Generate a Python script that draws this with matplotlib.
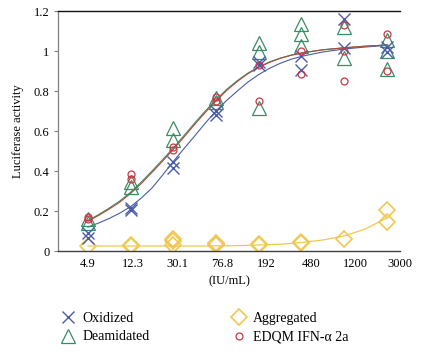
import numpy as np
import matplotlib.pyplot as plt

# ==========================================
# DATA
# ==========================================
conc_labels = ["4.9", "12.3", "30.1", "76.8", "192", "480", "1200", "3000"]

# replicate points per concentration index
oxidized = [
    [0.09, 0.065], [0.215, 0.205], [0.445, 0.415], [0.70, 0.68],
    [0.945, 0.93], [0.975, 0.905], [1.16, 1.015], [1.02, 0.995],
]
deamidated = [
    [0.16, 0.14], [0.345, 0.32], [0.615, 0.555], [0.765, 0.745],
    [1.04, 0.995, 0.715], [1.135, 1.085, 1.025], [1.12, 0.965], [1.055, 1.0, 0.91],
]
aggregated = [
    [0.025], [0.025, 0.03], [0.03, 0.05, 0.06], [0.03, 0.035, 0.04],
    [0.03, 0.035], [0.04, 0.045], [0.06], [0.205, 0.145],
]
edqm = [
    [0.16, 0.17], [0.385, 0.36], [0.52, 0.505], [0.77, 0.75],
    [0.93, 0.75], [1.0, 0.885], [1.13, 1.0, 0.85], [1.085, 0.90],
]

curve_x = [0, 0.25, 0.5, 0.75, 1, 1.25, 1.5, 1.75, 2, 2.25, 2.5, 2.75, 3, 3.25,
           3.5, 3.75, 4, 4.25, 4.5, 4.75, 5, 5.5, 6, 6.5, 7]
curve_ox = [0.12, 0.14, 0.163, 0.19, 0.222, 0.265, 0.315, 0.38, 0.448, 0.512, 0.575, 0.64, 0.70,
            0.753, 0.80, 0.845, 0.882, 0.913, 0.938, 0.958, 0.973, 0.995, 1.01, 1.02, 1.028]
curve_edqm = [0.15, 0.178, 0.21, 0.245, 0.288, 0.338, 0.393, 0.45, 0.508, 0.57, 0.633, 0.693, 0.75,
              0.803, 0.848, 0.887, 0.918, 0.943, 0.963, 0.978, 0.99, 1.006, 1.016, 1.024, 1.03]
curve_deam = [0.153, 0.182, 0.215, 0.251, 0.294, 0.345, 0.40, 0.457, 0.515, 0.577, 0.64, 0.70, 0.756,
              0.808, 0.852, 0.89, 0.92, 0.945, 0.964, 0.979, 0.99, 1.006, 1.016, 1.024, 1.03]
curve_agg = [0.025, 0.025, 0.025, 0.025, 0.025, 0.025, 0.025, 0.025, 0.025, 0.025, 0.025, 0.025, 0.026,
             0.026, 0.027, 0.028, 0.03, 0.032, 0.034, 0.038, 0.042, 0.055, 0.075, 0.11, 0.165]

C_OX = "#4a5ca8"
C_DEAM = "#3a8c64"
C_AGG = "#f0c850"
C_EDQM = "#c83a44"

plt.rcParams['font.family'] = ['Liberation Serif', 'DejaVu Serif']

fig = plt.figure(figsize=(4.21, 3.52), dpi=100)
ax = fig.add_axes([58 / 421, 101 / 352, 342 / 421, 240 / 352])

# curves
ax.plot(curve_x, curve_agg, color=C_AGG, lw=0.9, zorder=1)
ax.plot(curve_x, curve_ox, color=C_OX, lw=0.8, zorder=1)
ax.plot(curve_x, curve_deam, color=C_DEAM, lw=0.8, zorder=1)
ax.plot(curve_x, curve_edqm, color="#b04a3a", lw=0.8, zorder=1)


def scatter_series(vals, **kw):
    xs, ys = [], []
    for i, reps in enumerate(vals):
        for v in reps:
            xs.append(i)
            ys.append(v)
    return ax.plot(xs, ys, ls="none", **kw)[0]


h_agg = scatter_series(aggregated, marker="D", ms=8, mfc="none", mec=C_AGG, mew=1.2, label="Aggregated")
h_deam = scatter_series(deamidated, marker="^", ms=10, mfc="none", mec=C_DEAM, mew=0.9, label="Deamidated")
h_ox = scatter_series(oxidized, marker="x", ms=9, mec=C_OX, mew=1.0, label="Oxidized")
h_edqm = scatter_series(edqm, marker="o", ms=5, mfc="none", mec=C_EDQM, mew=0.9, label="EDQM IFN-\u03b1 2a")

# x axis: points evenly spaced by index, labels spread up to the right edge
xmax = (400 - 88) / 42.67
ax.set_xlim((58 - 88) / 42.67, xmax)
ax.set_xticks(np.linspace(0, xmax, len(conc_labels)))
ax.set_xticklabels(conc_labels)
ax.tick_params(axis="x", length=0, pad=5, labelsize=9)

ax.set_ylim(0, 1.2)
ax.set_yticks([0, 0.2, 0.4, 0.6, 0.8, 1.0, 1.2])
ax.set_yticklabels(["0", "0.2", "0.4", "0.6", "0.8", "1", "1.2"])
ax.tick_params(axis="y", direction="out", length=3, width=0.8, color="#808080", labelsize=9, pad=3)

ax.spines["right"].set_visible(False)
ax.spines["top"].set_color("#111111")
ax.spines["top"].set_linewidth(1.0)
ax.spines["left"].set_color("#808080")
ax.spines["left"].set_linewidth(0.9)
ax.spines["bottom"].set_color("#404040")
ax.spines["bottom"].set_linewidth(1.0)

ax.set_xlabel("(IU/mL)", fontsize=9, labelpad=4)
ax.set_ylabel("Luciferase activity", fontsize=9, labelpad=7)

fig.legend([h_ox, h_deam, h_agg, h_edqm],
           ["Oxidized", "Deamidated", "Aggregated", "EDQM IFN-\u03b1 2a"],
           ncol=2, loc="upper left", bbox_to_anchor=(54 / 421, 1 - 306 / 352),
           frameon=False, fontsize=10, handletextpad=0.45, handlelength=1.2,
           columnspacing=5.8, labelspacing=0.42, borderaxespad=0)

fig.savefig("out.png", dpi=100)
